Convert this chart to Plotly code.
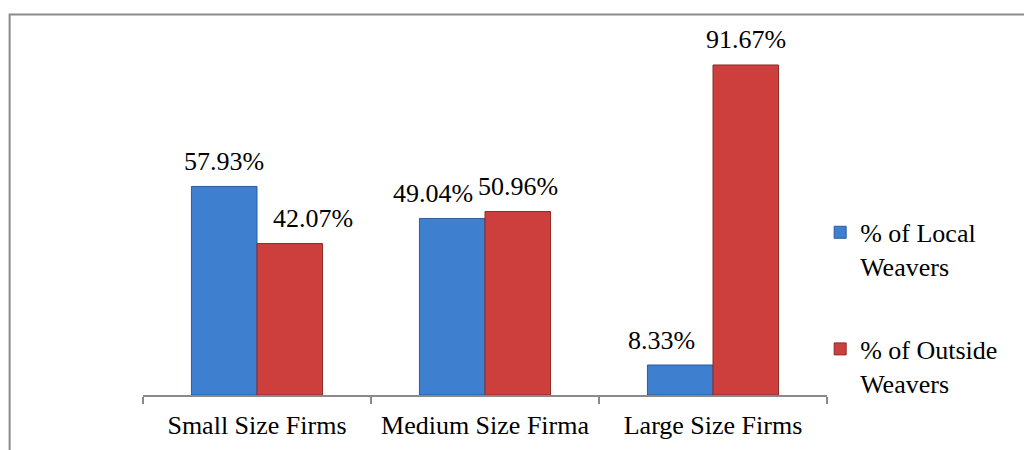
import plotly.graph_objects as go

# data
categories = ["Small Size Firms", "Medium Size Firma", "Large Size Firms"]
local_pct = [57.93, 49.04, 8.33]
outside_pct = [42.07, 50.96, 91.67]

FONT = "Times New Roman"
BLUE = "#3f7fcf"
RED = "#cc3f3d"

fig = go.Figure()

fig.add_trace(go.Bar(
    x=categories, y=local_pct,
    name="% of Local<br>Weavers",
    legendgroup="a",
    marker=dict(color=BLUE, line=dict(color="#2b5d9e", width=1)),
))
fig.add_trace(go.Bar(
    x=categories, y=outside_pct,
    name="% of Outside<br>Weavers",
    legendgroup="b",
    marker=dict(color=RED, line=dict(color="#8e2a28", width=1)),
))

# data labels (Excel style, some nudged sideways)
local_shift = [0, -19, -19]
outside_shift = [23, 0, 0]
half = 32.75
for cat, v, s in zip(categories, local_pct, local_shift):
    fig.add_annotation(x=cat, y=v, text=f"{v:.2f}%", showarrow=False,
                       xshift=-half + s, yshift=25, yanchor="middle",
                       font=dict(family=FONT, size=26, color="#000"))
for cat, v, s in zip(categories, outside_pct, outside_shift):
    fig.add_annotation(x=cat, y=v, text=f"{v:.2f}%", showarrow=False,
                       xshift=half + s, yshift=25, yanchor="middle",
                       font=dict(family=FONT, size=26, color="#000"))

# outer chart border
fig.add_shape(type="rect", xref="paper", yref="paper",
              x0=-0.195, x1=1.5, y0=-0.5, y1=1.057,
              line=dict(color="#8a8a8a", width=2), layer="below")

fig.update_layout(
    width=1024, height=450,
    margin=dict(l=143, r=197, t=35, b=55, autoexpand=False),
    paper_bgcolor="white", plot_bgcolor="white",
    barmode="group", bargap=0.425, bargroupgap=0,
    font=dict(family=FONT, size=26, color="#000"),
    showlegend=True,
    legend=dict(x=0.99, y=0.517, xanchor="left", yanchor="top",
                valign="top", tracegroupgap=46,
                font=dict(family=FONT, size=26, color="#000"),
                bgcolor="rgba(0,0,0,0)"),
)
fig.update_xaxes(showline=True, linecolor="#8a8a8a", linewidth=1.5,
                 ticks="outside", tickson="boundaries", ticklen=7,
                 tickcolor="#8a8a8a", tickwidth=1.5, showgrid=False,
                 tickangle=0, automargin=False, ticklabelstandoff=6,
                 tickfont=dict(family=FONT, size=26, color="#000"))
fig.update_yaxes(range=[0, 100], visible=False, showgrid=False)

fig.write_html("out.html", config={"displayModeBar": False},
               post_script="document.body.style.margin='0';")
